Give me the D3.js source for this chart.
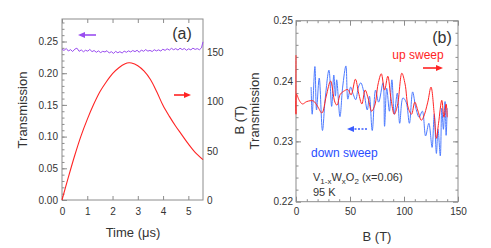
<!DOCTYPE html>
<html><head><meta charset="utf-8">
<script src="https://cdn.jsdelivr.net/npm/d3@7"></script>
<style>
body{margin:0;background:#fff;}
text{font-family:"Liberation Sans",Arial,sans-serif;fill:#333;}
</style></head>
<body><svg id="c" width="491" height="248"></svg>
<script>
// Panel (a): transmission vs time (purple), field vs time (red)
const timeTrans = [0.00,0.08,0.17,0.25,0.34,0.42,0.51,0.59,0.68,0.76,0.85,0.93,1.02,1.10,1.19,1.27,1.36,1.44,1.53,1.61,1.70,1.78,1.87,1.95,2.04,2.12,2.21,2.29,2.38,2.46,2.55,2.63,2.72,2.80,2.89,2.97,3.06,3.14,3.23,3.31,3.40,3.48,3.57,3.65,3.74,3.82,3.91,3.99,4.08,4.16,4.25,4.33,4.42,4.50,4.59,4.67,4.76,4.84,4.93,5.01,5.10,5.18,5.27,5.35,5.44,5.52,5.58];
const transA = [0.2375,0.2360,0.2390,0.2350,0.2372,0.2342,0.2380,0.2395,0.2345,0.2368,
0.2338,0.2362,0.2348,0.2375,0.2340,0.2358,0.2330,0.2352,0.2325,0.2345,
0.2335,0.2355,0.2318,0.2340,0.2312,0.2345,0.2322,0.2340,0.2318,0.2348,
0.2330,0.2352,0.2335,0.2358,0.2340,0.2362,0.2330,0.2366,0.2345,0.2372,
0.2348,0.2360,0.2342,0.2370,0.2352,0.2368,0.2350,0.2378,0.2360,0.2385,
0.2365,0.2392,0.2370,0.2388,0.2365,0.2395,0.2372,0.2390,0.2362,0.2385,
0.2368,0.2395,0.2375,0.2388,0.2370,0.2400,0.2495];
const timeField = [0,0.25,0.5,0.75,1.0,1.25,1.5,1.75,2.0,2.25,2.5,2.65,2.75,3.0,3.25,3.5,3.75,4.0,4.25,4.5,4.75,5.0,5.25,5.58];
const fieldA = [0,23,45,65,82,97,110,120,128.5,134.5,138.5,139.5,139.3,136.5,131,122.5,110,96,85,75,66,57,49,41];
const timeTicks = [0,1,2,3,4,5];
const transTicksA = [0,0.05,0.10,0.15,0.20,0.25];
const fieldTicksA = [0,50,100,150];

// Panel (b): transmission vs field, up and down sweeps
const fieldUp = [0,0,0.5,3,6,10,16,20,24,28,32,36,38,41,45,48,51,55,58,61,64,67,70,73,76,79,82,85,88,91,94,98,101,104,107,110,113,116,118,122,125,128,130,132,135,137,139,140];
const transUp = [0.2443,0.2345,0.2378,0.2368,0.2362,0.2366,0.2367,0.2358,0.2347,0.2375,0.2400,0.2365,0.2360,0.2378,0.2384,0.2386,0.2377,0.2403,0.2380,0.2362,0.2385,0.2370,0.2350,0.2360,0.2395,0.2412,0.2385,0.2408,0.2370,0.2345,0.2360,0.2413,0.2395,0.2355,0.2345,0.2365,0.2350,0.2335,0.2340,0.2365,0.2390,0.2345,0.2305,0.2330,0.2368,0.2340,0.2362,0.2340];
const fieldDown = [14,15,17.5,19,21.5,24.5,27,30.5,33,35,36.5,37.7,40.7,43.2,46.2,48,50.6,53,55.3,57.8,60,63,66,68,70.6,73.7,76.5,80.6,82,84,86.5,88.8,91,93.8,96,99,102,105,108,111,114,117,120,123,126,128,130,131.5,133.6,135,136.5,138,139,140];
const transDown = [0.2390,0.2345,0.2424,0.2352,0.2405,0.2318,0.2370,0.2418,0.2358,0.2410,0.2375,0.2402,0.2341,0.2390,0.2425,0.2370,0.2390,0.2378,0.2369,0.2390,0.2397,0.2380,0.2352,0.2375,0.2318,0.2385,0.2365,0.2397,0.2325,0.2388,0.2350,0.2402,0.2345,0.2380,0.2330,0.2372,0.2365,0.2330,0.2382,0.2355,0.2340,0.2350,0.2309,0.2330,0.2290,0.2345,0.2280,0.2320,0.2276,0.2355,0.2320,0.2366,0.2310,0.2355];
const fieldTicksB = [0,50,100,150];
const transTicksB = [0.22,0.23,0.24,0.25];

const svg = d3.select("#c");
const AX = "#8c8c8c";
const RED = "#ff2424", PURPLE = "#9a4df0", BLUE = "#4d7bff";

function styleAxis(g){
  g.select(".domain").remove();
  g.selectAll(".tick line").attr("stroke", AX);
  g.selectAll(".tick text").attr("fill","#333").style("font-family","Liberation Sans, Arial, sans-serif");
}
function frame(x0,x1,y0,y1){
  svg.append("rect").attr("x",x0).attr("y",y0).attr("width",x1-x0).attr("height",y1-y0)
    .attr("fill","none").attr("stroke",AX).attr("stroke-width",1);
}
function arrow(x1,x2,y,color,dashed){
  const dir = Math.sign(x2-x1);
  const hx = x2 - dir*7;
  svg.append("line").attr("x1",x1).attr("x2",hx).attr("y1",y).attr("y2",y)
    .attr("stroke",color).attr("stroke-width",1.6)
    .attr("stroke-dasharray",dashed?"2,1.5":null);
  svg.append("path").attr("d",`M${x2},${y}L${hx},${y-3}L${hx},${y+3}Z`).attr("fill",color);
}

// ---------- Panel (a) ----------
const aL=62,aR=203,aT=19,aB=200;
const xa = d3.scaleLinear().domain([0,5.58]).range([aL,aR]);
const ya = d3.scaleLinear().domain([0,0.2855]).range([aB,aT]);
const ya2 = d3.scaleLinear().domain([0,184]).range([aB,aT]);

svg.append("g").attr("transform",`translate(${aL},0)`)
  .call(d3.axisLeft(ya).tickValues(d3.range(0,0.281,0.01)).tickSize(-2.5).tickFormat(""))
  .call(styleAxis);
svg.append("g").attr("transform",`translate(${aL},0)`).attr("font-size",11)
  .call(d3.axisLeft(ya).tickValues(transTicksA).tickSize(-5).tickPadding(4).tickFormat(d3.format(".2f")))
  .call(styleAxis);
svg.append("g").attr("transform",`translate(0,${aB})`).attr("font-size",11)
  .call(d3.axisBottom(xa).tickValues(timeTicks).tickSize(-4).tickPadding(8).tickFormat(d3.format("d")))
  .call(styleAxis);
svg.append("g").attr("transform",`translate(0,${aT})`)
  .call(d3.axisTop(xa).tickValues(timeTicks).tickSize(-4).tickFormat(""))
  .call(styleAxis);
svg.append("g").attr("transform",`translate(${aR},0)`).attr("font-size",11)
  .call(d3.axisRight(ya2).tickValues(fieldTicksA).tickSize(0).tickPadding(4).tickFormat(d3.format("d")))
  .call(styleAxis);
frame(aL,aR,aT,aB);

const purpleLine = d3.line().x((d,i)=>xa(timeTrans[i])).y(d=>ya(d));
svg.append("path").datum(transA).attr("d",purpleLine).attr("fill","none").attr("stroke",PURPLE).attr("stroke-width",1);
const fieldLine = d3.line().x((d,i)=>xa(timeField[i])).y(d=>ya2(d)).curve(d3.curveCatmullRom.alpha(0.5));
svg.append("path").datum(fieldA).attr("d",fieldLine).attr("fill","none").attr("stroke",RED).attr("stroke-width",1.1);

arrow(96,78,35,PURPLE,false);
arrow(174,191,95,RED,false);

svg.append("text").attr("x",182).attr("y",39).attr("text-anchor","middle").attr("font-size",16).text("(a)");
svg.append("text").attr("transform","translate(27,110) rotate(-90)").attr("text-anchor","middle").attr("font-size",13).text("Transmission");
svg.append("text").attr("transform","translate(244,120) rotate(-90)").attr("text-anchor","middle").attr("font-size",13).text("B (T)");
svg.append("text").attr("x",133).attr("y",237).attr("text-anchor","middle").attr("font-size",13).text("Time (μs)");

// ---------- Panel (b) ----------
const bL=296,bR=458,bT=20.7,bB=201.7;
const xb = d3.scaleLinear().domain([0,150]).range([bL,bR]);
const yb = d3.scaleLinear().domain([0.22,0.25]).range([bB,bT]);

svg.append("g").attr("transform",`translate(${bL},0)`)
  .call(d3.axisLeft(yb).tickValues(d3.range(0.222,0.2495,0.002)).tickSize(-2.5).tickFormat(""))
  .call(styleAxis);
svg.append("g").attr("transform",`translate(${bL},0)`).attr("font-size",12)
  .call(d3.axisLeft(yb).tickValues(transTicksB).tickSize(-5).tickPadding(3).tickFormat(d3.format(".2f")))
  .call(styleAxis);
svg.append("g").attr("transform",`translate(${bR},0)`)
  .call(d3.axisRight(yb).tickValues(d3.range(0.222,0.2495,0.002)).tickSize(-2.5).tickFormat(""))
  .call(styleAxis);
svg.append("g").attr("transform",`translate(${bR},0)`)
  .call(d3.axisRight(yb).tickValues(transTicksB).tickSize(-5).tickFormat(""))
  .call(styleAxis);
svg.append("g").attr("transform",`translate(0,${bB})`)
  .call(d3.axisBottom(xb).tickValues(d3.range(10,150,10)).tickSize(-2.5).tickFormat(""))
  .call(styleAxis);
svg.append("g").attr("transform",`translate(0,${bB})`).attr("font-size",12)
  .call(d3.axisBottom(xb).tickValues(fieldTicksB).tickSize(-5).tickPadding(6).tickFormat(d3.format("d")))
  .call(styleAxis);
svg.append("g").attr("transform",`translate(0,${bT})`)
  .call(d3.axisTop(xb).tickValues(d3.range(10,150,10)).tickSize(-2.5).tickFormat(""))
  .call(styleAxis);
svg.append("g").attr("transform",`translate(0,${bT})`)
  .call(d3.axisTop(xb).tickValues(fieldTicksB).tickSize(-5).tickFormat(""))
  .call(styleAxis);
frame(bL,bR,bT,bB);

const downLine = d3.line().x((d,i)=>xb(fieldDown[i])).y(d=>yb(d)).curve(d3.curveCatmullRom.alpha(0.5));
svg.append("path").datum(transDown).attr("d",downLine).attr("fill","none").attr("stroke",BLUE).attr("stroke-width",1);
const upLine = d3.line().x((d,i)=>xb(fieldUp[i])).y(d=>yb(d)).curve(d3.curveCatmullRom.alpha(0.5));
svg.append("path").datum(transUp).attr("d",upLine).attr("fill","none").attr("stroke",RED).attr("stroke-width",1);

arrow(423,443,68,RED,false);
arrow(367,347,129,"#3a5cff",true);

svg.append("text").attr("x",442).attr("y",43).attr("text-anchor","middle").attr("font-size",16).text("(b)");
svg.append("text").attr("x",418).attr("y",59).attr("text-anchor","middle").attr("font-size",12).style("fill",RED).text("up sweep");
svg.append("text").attr("x",311).attr("y",157).attr("font-size",12).style("fill","#2a4dff").text("down sweep");
const vt = svg.append("text").attr("x",313).attr("y",181).attr("font-size",11);
vt.append("tspan").text("V");
vt.append("tspan").attr("font-size",8).attr("dy",2.5).text("1-x");
vt.append("tspan").attr("dy",-2.5).text("W");
vt.append("tspan").attr("font-size",8).attr("dy",2.5).text("x");
vt.append("tspan").attr("dy",-2.5).text("O");
vt.append("tspan").attr("font-size",8).attr("dy",2.5).text("2");
vt.append("tspan").attr("dy",-2.5).text(" (x=0.06)");
svg.append("text").attr("x",313).attr("y",196).attr("font-size",11).text("95 K");
svg.append("text").attr("transform","translate(259,111) rotate(-90)").attr("text-anchor","middle").attr("font-size",13).text("Transmission");
svg.append("text").attr("x",377).attr("y",241).attr("text-anchor","middle").attr("font-size",13).text("B (T)");
</script></body></html>
